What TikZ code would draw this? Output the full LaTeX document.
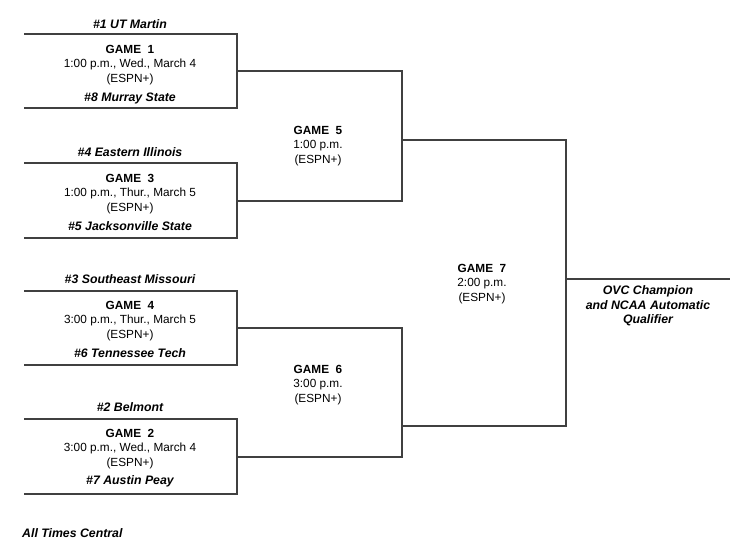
\documentclass[tikz,border=0pt]{standalone}
\usepackage{fontspec}
\setmainfont{Liberation Sans}
\usetikzlibrary{positioning}

\begin{document}
\begin{tikzpicture}[x=1pt, y=-1pt, every node/.style={font=\fontsize{11.8}{14.5}\selectfont}]
\tikzset{seed/.style={font=\fontsize{12.3}{14.5}\selectfont\bfseries\itshape, inner sep=0pt},
  game/.style={align=center, inner sep=0pt},
  bline/.style={line width=1.2pt, draw=black!75}}
\useasboundingbox (0,0) rectangle (744,549);

% first round
\node[seed] (s1) at (130,24) {\#1 UT Martin};
\node[game] (g1) at (130,65) {\textbf{GAME~~1}\\1:00 p.m., Wed., March 4\\(ESPN+)};
\node[seed] (s8) at (130,98) {\#8 Murray State};
\node[seed] (s4) at (130,152) {\#4 Eastern Illinois};
\node[game] (g3) at (130,194) {\textbf{GAME~~3}\\1:00 p.m., Thur., March 5\\(ESPN+)};
\node[seed] (s5) at (130,226) {\#5 Jacksonville State};
\node[seed] (s3) at (130,279) {\#3 Southeast Missouri};
\node[game] (g4) at (130,321) {\textbf{GAME~~4}\\3:00 p.m., Thur., March 5\\(ESPN+)};
\node[seed] (s6) at (130,353) {\#6 Tennessee Tech};
\node[seed] (s2) at (130,407) {\#2 Belmont};
\node[game] (g2) at (130,449) {\textbf{GAME~~2}\\3:00 p.m., Wed., March 4\\(ESPN+)};
\node[seed] (s7) at (130,481) {\#7 Austin Peay};

% later rounds
\node[game] (g5) at (318,146) {\textbf{GAME~~5}\\1:00 p.m.\\(ESPN+)};
\node[game] (g6) at (318,385) {\textbf{GAME~~6}\\3:00 p.m.\\(ESPN+)};
\node[game] (g7) at (482,284) {\textbf{GAME~~7}\\2:00 p.m.\\(ESPN+)};
\node[game, font=\fontsize{12.3}{14.5}\selectfont\bfseries\itshape] (champ) at (648,306)
  {OVC Champion\\and NCAA Automatic\\Qualifier};
\node[seed, anchor=west] (note) at (22,533) {All Times Central};

% bracket points
\coordinate (g1top) at (24,34);   \coordinate (g1bot) at (24,108);
\coordinate (g3top) at (24,163);  \coordinate (g3bot) at (24,238);
\coordinate (g4top) at (24,291);  \coordinate (g4bot) at (24,365);
\coordinate (g2top) at (24,419);  \coordinate (g2bot) at (24,494);
\coordinate (g1out) at (237,71);  \coordinate (g3out) at (237,201);
\coordinate (g4out) at (237,328); \coordinate (g2out) at (237,457);
\coordinate (g5out) at (402,140); \coordinate (g6out) at (402,426);
\coordinate (g7out) at (566,279); \coordinate (champend) at (730,279);

\draw[bline] (g1top) -- ++(213,0) |- (g1bot);
\draw[bline] (g3top) -- ++(213,0) |- (g3bot);
\draw[bline] (g4top) -- ++(213,0) |- (g4bot);
\draw[bline] (g2top) -- ++(213,0) |- (g2bot);
\draw[bline] (g1out) -| (g5out) |- (g3out);
\draw[bline] (g4out) -| (g6out) |- (g2out);
\draw[bline] (g5out) -| (g7out) |- (g6out);
\draw[bline] (g7out) -- (champend);
\end{tikzpicture}
\end{document}
